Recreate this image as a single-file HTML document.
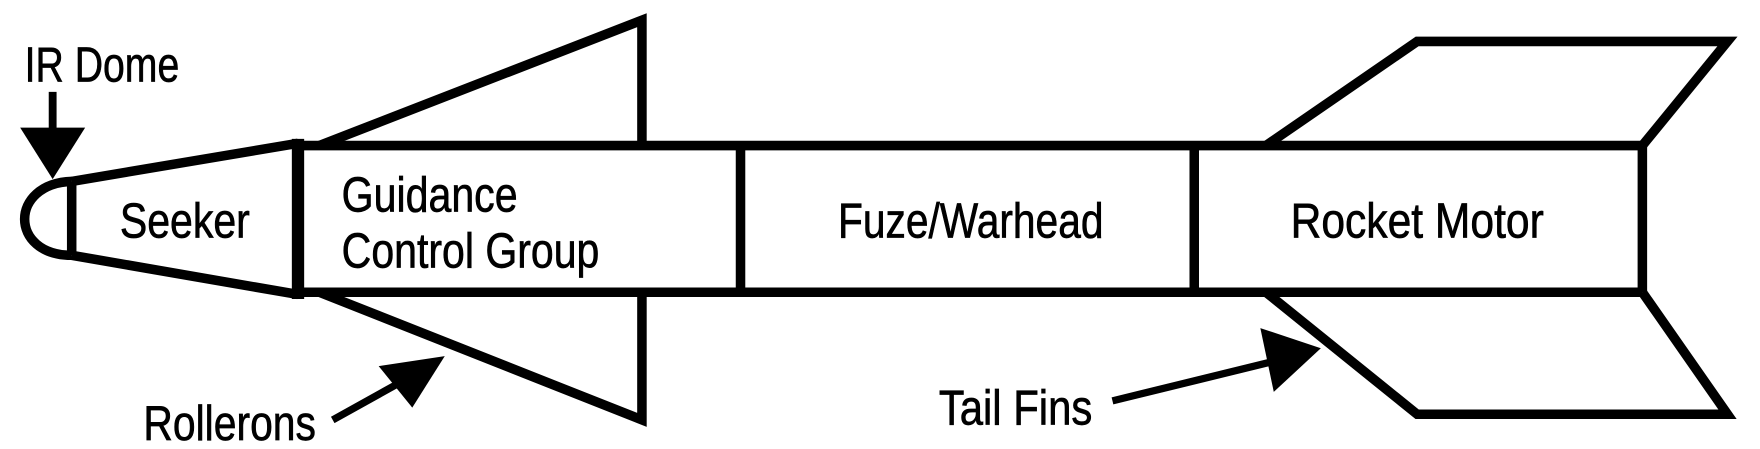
<!DOCTYPE html>
<html><head><meta charset="utf-8"><style>html,body{margin:0;padding:0;background:#fff}svg{display:block}</style></head>
<body>
<svg width="1760" height="449" viewBox="0 0 1571 401" preserveAspectRatio="none" xmlns="http://www.w3.org/2000/svg">
<rect width="1571" height="401" fill="#fff"/>
<g fill="none" stroke="#000" stroke-width="8.5" stroke-linejoin="miter">
  <path d="M64,162 C8,164 8,228 64,228" />
  <line x1="64" y1="162" x2="64" y2="228"/>
  <line x1="64" y1="162" x2="266" y2="128"/>
  <line x1="64" y1="228" x2="266" y2="263"/>
  <line x1="266" y1="124" x2="266" y2="267" stroke-width="11"/>
  <line x1="266" y1="130" x2="1466" y2="130"/>
  <line x1="266" y1="261" x2="1466" y2="261"/>
  <line x1="661" y1="130" x2="661" y2="261"/>
  <line x1="1066" y1="130" x2="1066" y2="261"/>
  <line x1="1466" y1="130" x2="1466" y2="261"/>
  <polyline points="285,130 573,18 573,130"/>
  <polyline points="285,261 573,375 573,261"/>
  <polyline points="1130,130 1265,37 1542,37 1466,130"/>
  <polyline points="1130,261 1265,370 1542,370 1466,261"/>
</g>
<g fill="#000" stroke="#000">
  <line x1="47" y1="82" x2="47" y2="118" stroke-width="7"/>
  <polygon points="18,114 76,114 47,160" stroke="none"/>
  <line x1="297" y1="375" x2="360" y2="340" stroke-width="6.5"/>
  <polygon points="397,318 338,327 368,364" stroke="none"/>
  <line x1="993" y1="358" x2="1140" y2="322" stroke-width="6.5"/>
  <polygon points="1179,311 1125,293 1137,350" stroke="none"/>
</g>
<g font-family="Liberation Sans, sans-serif" font-size="44" fill="#000" stroke="#000" stroke-width="0.6">
  <text x="22" y="73" textLength="138" lengthAdjust="spacingAndGlyphs">IR Dome</text>
  <text x="107" y="212" textLength="116" lengthAdjust="spacingAndGlyphs">Seeker</text>
  <text x="305" y="189" textLength="157" lengthAdjust="spacingAndGlyphs">Guidance</text>
  <text x="305" y="239" textLength="230" lengthAdjust="spacingAndGlyphs">Control Group</text>
  <text x="748" y="212" textLength="237" lengthAdjust="spacingAndGlyphs">Fuze/Warhead</text>
  <text x="1152" y="212" textLength="226" lengthAdjust="spacingAndGlyphs">Rocket Motor</text>
  <text x="128" y="393" textLength="154" lengthAdjust="spacingAndGlyphs">Rollerons</text>
  <text x="838" y="379" textLength="137" lengthAdjust="spacingAndGlyphs">Tail Fins</text>
</g>
</svg>
</body></html>
